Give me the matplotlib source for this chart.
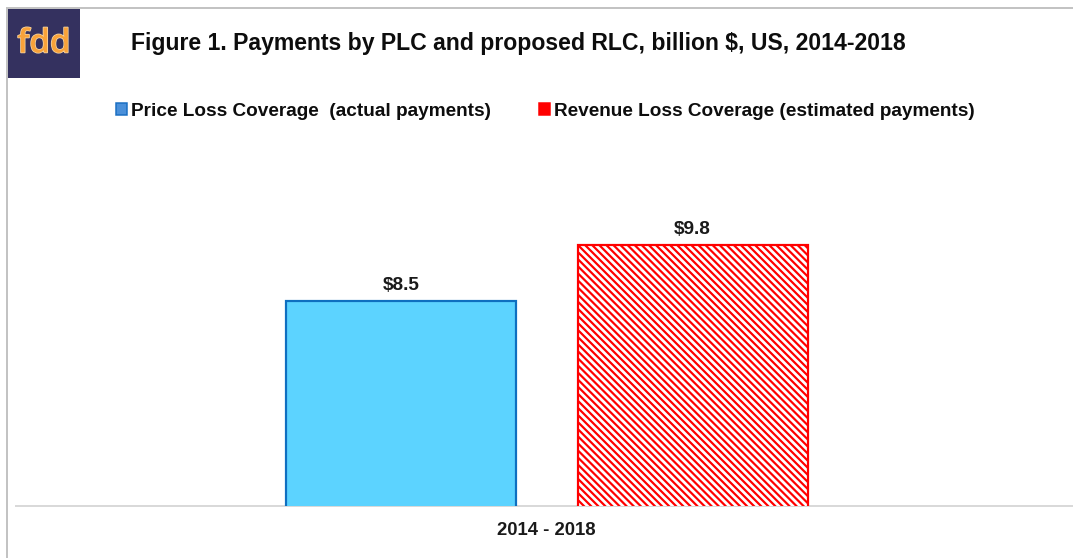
import matplotlib
matplotlib.use("Agg")
import matplotlib.pyplot as plt
from matplotlib.patches import Rectangle, Patch
from matplotlib.lines import Line2D
import matplotlib.patheffects as pe

# ---- data ----
categories = ["2014 - 2018"]
series_names = ["Price Loss Coverage  (actual payments)",
                "Revenue Loss Coverage (estimated payments)"]
plc_values = [8.5]
rlc_values = [9.8]
value_labels_plc = ["$8.5"]
value_labels_rlc = ["$9.8"]
title = "Figure 1. Payments by PLC and proposed RLC, billion $, US, 2014-2018"

W, H = 1073, 558
DPI = 85

def pt(p):  # pixels -> points
    return p * 72.0 / DPI

def fx(x):
    return x / W

def fy(y):
    return 1 - y / H

plt.rcParams['font.family'] = ['Liberation Sans', 'DejaVu Sans']
plt.rcParams['hatch.linewidth'] = pt(2.2)
plt.rcParams['hatch.color'] = '#FF0000'

fig = plt.figure(figsize=(W / DPI, H / DPI), dpi=DPI)
fig.patch.set_facecolor('white')

ax = fig.add_axes([fx(16), fy(506), 1 - fx(16), fy(130) - fy(506)])
ax.set_facecolor('white')

xpos = list(range(len(categories)))
off = 0.635
bw = 1.0
plc_x = [x - off for x in xpos]
rlc_x = [x + off for x in xpos]

b1 = ax.bar(plc_x, plc_values, width=bw, bottom=0, color='#5CD3FF',
            edgecolor='#0E6FC0', linewidth=pt(2.2), zorder=3)
b2 = ax.bar(rlc_x, rlc_values, width=bw, bottom=0, color='white',
            edgecolor='#FF0000', linewidth=pt(2.2), hatch='\\\\\\\\', zorder=3)

ax.set_ylim(3.81, 12.43)
ax.set_xlim(-2.31, 2.29)

for bars, labels in ((b1, value_labels_plc), (b2, value_labels_rlc)):
    for rect, lab in zip(bars, labels):
        ax.annotate(lab, (rect.get_x() + rect.get_width() / 2, rect.get_height()),
                    xytext=(0, pt(11)), textcoords='offset points',
                    ha='center', va='baseline', fontsize=pt(19), fontweight='bold',
                    color='#1a1a1a')

for s in ('top', 'right', 'left'):
    ax.spines[s].set_visible(False)
ax.spines['bottom'].set_color('#D9D9D9')
ax.spines['bottom'].set_linewidth(pt(2))
ax.set_yticks([])
ax.set_xticks(xpos)
ax.set_xticklabels(categories, fontsize=pt(18.5), fontweight='bold', color='#1a1a1a')
ax.tick_params(axis='x', length=0, pad=pt(16))

# frame lines (top and left)
fig.add_artist(Line2D([fx(7), 1], [fy(8), fy(8)], color='#C3C3C3', lw=pt(2)))
fig.add_artist(Line2D([fx(7), fx(7)], [fy(8), 0], color='#C3C3C3', lw=pt(2)))

# logo
fig.add_artist(Rectangle((fx(8), fy(78)), fx(80) - fx(8), fy(9) - fy(78),
                         transform=fig.transFigure, facecolor='#34315F',
                         edgecolor='none'))
fig.text(fx(44), fy(44), "fdd", ha='center', va='center', fontsize=pt(33),
         fontweight='semibold', color='#F8A23A', family=['Open Sans', 'DejaVu Sans'],
         path_effects=[pe.withStroke(linewidth=pt(1.5), foreground='#F4D7A8')])

# title
fig.text(fx(131), fy(50), title, ha='left', va='baseline', fontsize=pt(23),
         fontweight='bold', color='#0d0d0d')

# legend
h1 = Patch(facecolor='#4A90DA', edgecolor='#1A6EC2', linewidth=pt(1.5))
h2 = Patch(facecolor='#FF0000', edgecolor='#FF0000', linewidth=pt(1.5))
leg_kw = dict(frameon=False, loc='upper left',
              handlelength=0.6, handleheight=0.6, handletextpad=0.17,
              borderpad=0, borderaxespad=0, bbox_transform=fig.transFigure,
              prop={'weight': 'bold', 'size': pt(19)})
l1 = fig.legend([h1], [series_names[0]], bbox_to_anchor=(fx(116), fy(103)), **leg_kw)
l2 = fig.legend([h2], [series_names[1]], bbox_to_anchor=(fx(539), fy(103)), **leg_kw)
for l in (l1, l2):
    for t in l.get_texts():
        t.set_color('#0d0d0d')

fig.savefig('out.png', dpi=DPI, facecolor='white')
